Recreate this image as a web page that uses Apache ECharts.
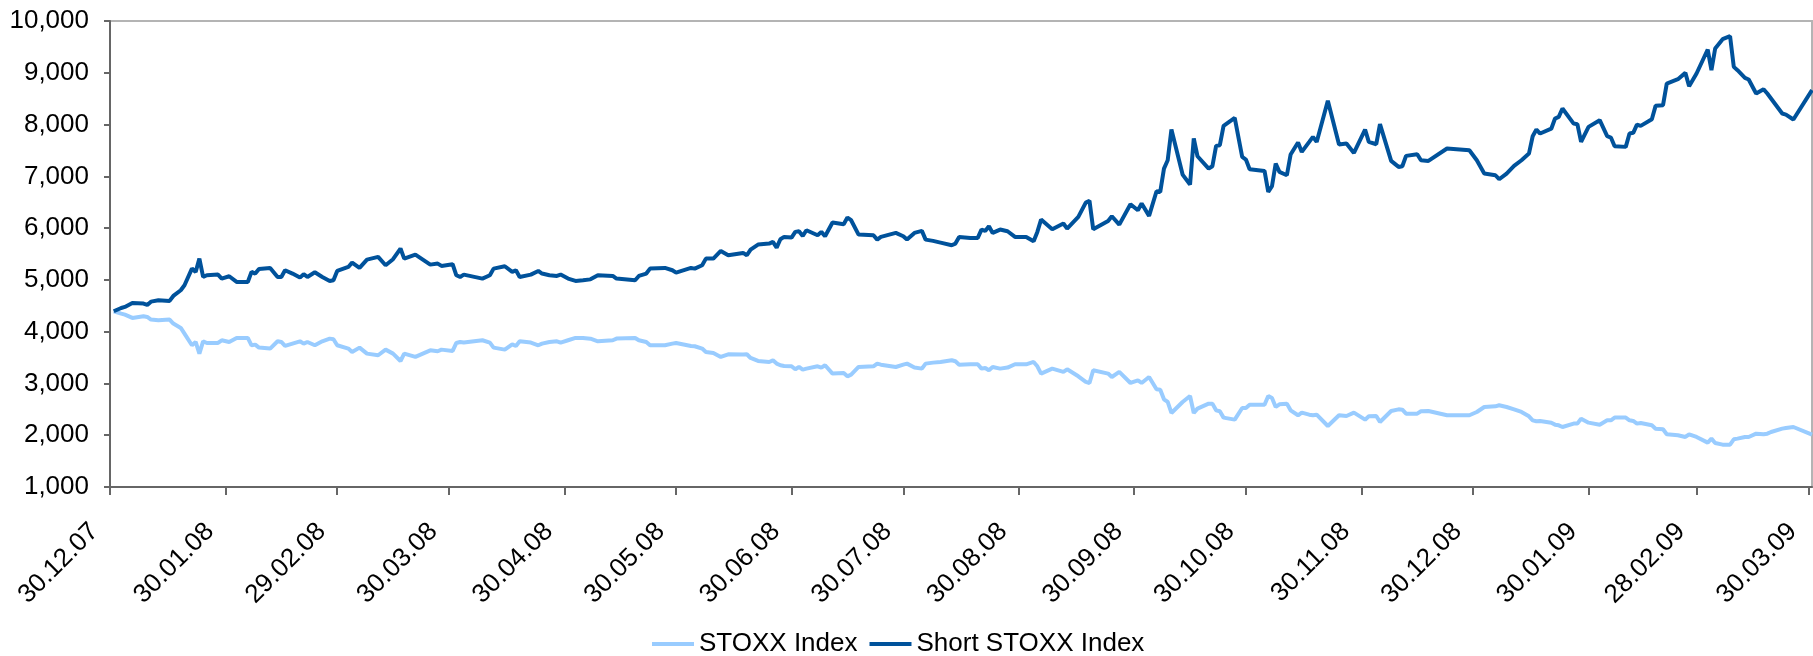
<!DOCTYPE html>
<html>
<head>
<meta charset="utf-8">
<script src="https://cdn.jsdelivr.net/npm/echarts@6/dist/echarts.min.js"></script>
<style>
html, body { margin: 0; padding: 0; background: #fff; }
#chart { width: 1813px; height: 656px; }
</style>
</head>
<body>
<div id="chart"></div>
<script>
// trading dates
var dates = [
  '2007-12-31','2008-01-02','2008-01-03','2008-01-05','2008-01-08','2008-01-09','2008-01-10','2008-01-12',
  '2008-01-15','2008-01-16','2008-01-18','2008-01-19','2008-01-21','2008-01-22','2008-01-23','2008-01-24',
  '2008-01-25','2008-01-28','2008-01-29','2008-01-31','2008-02-02','2008-02-05','2008-02-06','2008-02-07',
  '2008-02-08','2008-02-11','2008-02-13','2008-02-14','2008-02-15','2008-02-17','2008-02-19','2008-02-20',
  '2008-02-21','2008-02-23','2008-02-25','2008-02-27','2008-02-28','2008-02-29','2008-03-03','2008-03-04',
  '2008-03-06','2008-03-08','2008-03-11','2008-03-13','2008-03-15','2008-03-17','2008-03-18','2008-03-21',
  '2008-03-25','2008-03-27','2008-03-28','2008-03-31','2008-04-01','2008-04-02','2008-04-03','2008-04-08',
  '2008-04-10','2008-04-11','2008-04-14','2008-04-16','2008-04-17','2008-04-18','2008-04-21','2008-04-23',
  '2008-04-24','2008-04-26','2008-04-28','2008-04-29','2008-05-01','2008-05-03','2008-05-05','2008-05-07',
  '2008-05-09','2008-05-13','2008-05-14','2008-05-19','2008-05-20','2008-05-22','2008-05-23','2008-05-27',
  '2008-05-29','2008-05-30','2008-06-03','2008-06-04','2008-06-06','2008-06-07','2008-06-09','2008-06-11',
  '2008-06-13','2008-06-17','2008-06-18','2008-06-19','2008-06-21','2008-06-24','2008-06-25','2008-06-26',
  '2008-06-27','2008-06-28','2008-06-30','2008-07-01','2008-07-02','2008-07-03','2008-07-04','2008-07-07',
  '2008-07-08','2008-07-09','2008-07-11','2008-07-14','2008-07-15','2008-07-16','2008-07-18','2008-07-22',
  '2008-07-23','2008-07-24','2008-07-28','2008-07-30','2008-07-31','2008-08-02','2008-08-04','2008-08-05',
  '2008-08-07','2008-08-09','2008-08-12','2008-08-13','2008-08-14','2008-08-17','2008-08-19','2008-08-20',
  '2008-08-21','2008-08-22','2008-08-23','2008-08-25','2008-08-27','2008-08-29','2008-09-01','2008-09-03',
  '2008-09-04','2008-09-05','2008-09-08','2008-09-11','2008-09-12','2008-09-15','2008-09-17','2008-09-18',
  '2008-09-19','2008-09-23','2008-09-24','2008-09-26','2008-09-29','2008-10-01','2008-10-02','2008-10-04',
  '2008-10-06','2008-10-07','2008-10-08','2008-10-09','2008-10-10','2008-10-13','2008-10-15','2008-10-16',
  '2008-10-17','2008-10-20','2008-10-21','2008-10-22','2008-10-23','2008-10-24','2008-10-27','2008-10-29',
  '2008-10-30','2008-10-31','2008-11-04','2008-11-05','2008-11-06','2008-11-07','2008-11-08','2008-11-10',
  '2008-11-11','2008-11-13','2008-11-14','2008-11-16','2008-11-17','2008-11-18','2008-11-21','2008-11-24',
  '2008-11-26','2008-11-28','2008-12-01','2008-12-02','2008-12-04','2008-12-05','2008-12-08','2008-12-10',
  '2008-12-11','2008-12-12','2008-12-15','2008-12-16','2008-12-18','2008-12-23','2008-12-29','2008-12-31',
  '2009-01-02','2009-01-05','2009-01-06','2009-01-08','2009-01-10','2009-01-12','2009-01-14','2009-01-15',
  '2009-01-16','2009-01-17','2009-01-20','2009-01-21','2009-01-22','2009-01-23','2009-01-26','2009-01-27',
  '2009-01-28','2009-01-30','2009-02-02','2009-02-04','2009-02-05','2009-02-06','2009-02-09','2009-02-10',
  '2009-02-11','2009-02-12','2009-02-13','2009-02-16','2009-02-17','2009-02-19','2009-02-20','2009-02-23',
  '2009-02-25','2009-02-26','2009-02-28','2009-03-03','2009-03-04','2009-03-05','2009-03-07','2009-03-09',
  '2009-03-10','2009-03-11','2009-03-13','2009-03-14','2009-03-16','2009-03-18','2009-03-19','2009-03-20',
  '2009-03-23','2009-03-24','2009-03-26','2009-03-31'
];

var stoxx = [
  4394,4349,4329,4265,4297,4284,4233,4220, 4233,4156,4072,3962,3737,3801,3576,3814,
  3782,3782,3834,3801,3879,3879,3737,3750, 3692,3673,3814,3801,3724,3769,3814,3769,
  3801,3737,3814,3866,3853,3737,3673,3608, 3692,3576,3544,3653,3576,3434,3576,3512,
  3640,3621,3653,3628,3782,3801,3789,3834, 3789,3692,3653,3756,3724,3814,3789,3737,
  3769,3801,3814,3789,3834,3879,3879,3865, 3814,3834,3866,3879,3834,3801,3737,3737,
  3769,3782,3724,3718,3673,3608,3589,3512, 3563,3557,3563,3492,3434,3415,3447,3383,
  3351,3338,3331,3273,3318,3267,3286,3331, 3306,3351,3190,3202,3138,3170,3318,3331,
  3383,3363,3318,3363,3383,3306,3286,3383, 3402,3415,3447,3428,3363,3370,3370,3286,
  3299,3254,3318,3286,3306,3370,3370,3415, 3331,3190,3286,3222,3273,3138,3029,3009,
  3254,3190,3125,3222,3009,3061,3009,3125, 2887,2880,2694,2642,2430,2642,2758,2430,
  2513,2610,2610,2481,2462,2340,2301,2526, 2526,2590,2590,2758,2719,2545,2597,2610,
  2481,2385,2436,2397,2385,2397,2178,2385, 2372,2436,2301,2365,2372,2256,2468,2500,
  2494,2417,2417,2462,2468,2385,2385,2449, 2545,2558,2578,2545,2500,2449,2365,2288,
  2269,2275,2240,2204,2191,2159,2224,2224, 2320,2243,2204,2288,2288,2340,2340,2288,
  2275,2224,2236,2191,2127,2114,2018,1998, 1966,2018,1966,1857,1934,1850,1818,1818,
  1921,1934,1966,1966,2030,2018,2030,2063, 2127,2140,2159,2011
];

var shortStoxx = [
  4394,4458,4478,4555,4542,4516,4580,4606, 4594,4690,4800,4896,5218,5154,5411,5057,
  5089,5102,5025,5070,4960,4960,5154,5122, 5212,5231,5057,5057,5186,5122,5044,5109,
  5057,5147,5057,4980,4993,5173,5250,5334, 5231,5392,5444,5283,5399,5605,5411,5489,
  5295,5315,5270,5302,5089,5057,5102,5025, 5089,5218,5263,5154,5186,5057,5102,5173,
  5122,5089,5076,5102,5025,4980,4993,5010, 5089,5076,5025,4993,5076,5122,5218,5231,
  5186,5141,5231,5218,5283,5411,5411,5559, 5476,5521,5476,5585,5682,5701,5733,5624,
  5785,5830,5817,5927,5939,5849,5959,5862, 5927,5843,6107,6075,6203,6152,5875,5862,
  5778,5830,5907,5843,5778,5907,5946,5778, 5753,5720,5669,5701,5830,5811,5811,5972,
  5946,6036,5907,5972,5939,5830,5830,5746, 5927,6165,5978,6088,5991,6216,6493,6526,
  5978,6139,6229,6068,6461,6345,6474,6236, 6712,6699,7150,7311,7904,7034,6841,7730,
  7388,7150,7195,7588,7601,7975,8129,7375, 7324,7137,7105,6699,6809,7247,7086,7021,
  7421,7653,7472,7665,7762,7665,8458,7614, 7633,7453,7904,7665,7620,8007,7298,7182,
  7195,7395,7427,7311,7298,7537,7504,7311, 7054,7021,6944,7054,7201,7311,7440,7775,
  7904,7827,7920,8116,8148,8309,8019,8007, 7665,7955,8084,7775,7749,7582,7569,7827,
  7840,8000,7975,8103,8361,8374,8792,8876, 8998,8741,8986,9449,9050,9469,9649,9707,
  9114,9050,8902,8870,8599,8683,8599,8503, 8213,8193,8097,8664
];

var tickDates = [
  '2007-12-30','2008-01-30','2008-02-29','2008-03-30','2008-04-30','2008-05-30',
  '2008-06-30','2008-07-30','2008-08-30','2008-09-30','2008-10-30','2008-11-30',
  '2008-12-30','2009-01-30','2009-02-28','2009-03-30'
];
var axisStart = '2007-12-30';
var axisEnd = '2009-03-31';

function toTime(s) {
  var p = s.split('-');
  return Date.UTC(+p[0], +p[1] - 1, +p[2]);
}
function pad(n) { return n < 10 ? '0' + n : '' + n; }
function fmtDate(v) {
  var d = new Date(v);
  return pad(d.getUTCDate()) + '.' + pad(d.getUTCMonth() + 1) + '.' + String(d.getUTCFullYear()).slice(2);
}

var tickTimes = tickDates.map(toTime);
var stoxxData = dates.map(function (d, i) { return [toTime(d), stoxx[i]]; });
var shortData = dates.map(function (d, i) { return [toTime(d), shortStoxx[i]]; });

var chart = echarts.init(document.getElementById('chart'));
var font = 'Liberation Sans, Arial, sans-serif';

chart.setOption({
  animation: false,
  backgroundColor: '#fff',
  textStyle: { fontFamily: font },
  grid: {
    left: 110, right: 1, top: 21, bottom: 169,
    show: true, borderColor: '#b4b4b4', borderWidth: 2, backgroundColor: 'transparent'
  },
  legend: {
    top: 626,
    left: 647,
    icon: 'rect',
    itemWidth: 42,
    itemHeight: 4,
    itemGap: 12,
    textStyle: { fontSize: 26, color: '#000', fontFamily: font },
    data: ['STOXX Index', 'Short STOXX Index']
  },
  xAxis: {
    type: 'value',
    min: toTime(axisStart),
    max: toTime(axisEnd),
    axisLine: { lineStyle: { color: '#666', width: 2 } },
    axisTick: { show: true, length: 8, inside: false, customValues: tickTimes, lineStyle: { color: '#666', width: 2 } },
    splitLine: { show: false },
    axisLabel: {
      customValues: tickTimes,
      rotate: 45,
      margin: 25,
      padding: [0, 22, 0, 0],
      fontSize: 26,
      color: '#000',
      fontFamily: font,
      formatter: function (v) { return fmtDate(v); }
    }
  },
  yAxis: {
    type: 'value',
    min: 1000,
    max: 10000,
    interval: 1000,
    axisLine: { show: true, lineStyle: { color: '#666', width: 2 } },
    axisTick: { show: true, length: 6, lineStyle: { color: '#666', width: 2 } },
    splitLine: { show: false },
    axisLabel: {
      margin: 21,
      fontSize: 26,
      color: '#000',
      fontFamily: font,
      formatter: function (v) { return v.toLocaleString('en-US'); }
    }
  },
  series: [
    {
      name: 'STOXX Index',
      type: 'line',
      data: stoxxData,
      symbol: 'none',
      lineStyle: { color: '#99ccff', width: 4 },
      itemStyle: { color: '#99ccff' }
    },
    {
      name: 'Short STOXX Index',
      type: 'line',
      data: shortData,
      symbol: 'none',
      lineStyle: { color: '#00529b', width: 4 },
      itemStyle: { color: '#00529b' }
    }
  ]
});
</script>
</body>
</html>
